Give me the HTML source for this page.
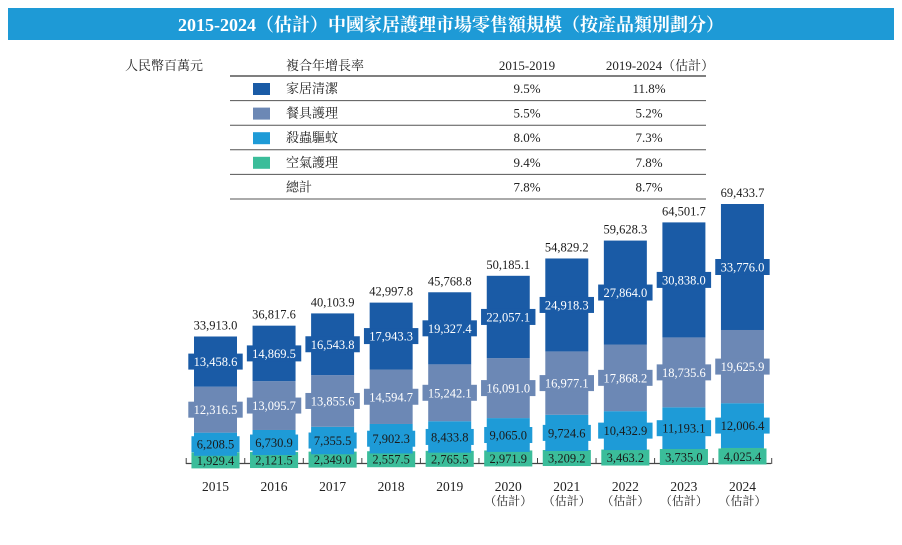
<!DOCTYPE html>
<html><head><meta charset="utf-8">
<style>
body{margin:0;background:#fff;width:902px;height:540px;overflow:hidden;font-family:"Liberation Serif","Noto Serif CJK SC",serif;}
</style></head>
<body>
<svg id="chart" width="902" height="540" xmlns="http://www.w3.org/2000/svg" font-family="Liberation Serif, Noto Serif CJK SC, serif">
<rect x="8" y="8" width="886" height="32" fill="#1E9AD6"/>
<text x="451" y="31" text-anchor="middle" fill="#fff" font-size="18" font-weight="bold">2015-2024（估計）中國家居護理市場零售額規模（按產品類別劃分）</text>
<text x="125" y="70" font-size="13" fill="#222">人民幣百萬元</text>
<g id="table"></g>
<g id="bars"></g>
</svg>
<script>
const years=["2015","2016","2017","2018","2019","2020","2021","2022","2023","2024"];
const estimated=[false,false,false,false,false,true,true,true,true,true];
const homeCleaning=[13458.6,14869.5,16543.8,17943.3,19327.4,22057.1,24918.3,27864.0,30838.0,33776.0];
const dishCare=[12316.5,13095.7,13855.6,14594.7,15242.1,16091.0,16977.1,17868.2,18735.6,19625.9];
const insecticide=[6208.5,6730.9,7355.5,7902.3,8433.8,9065.0,9724.6,10432.9,11193.1,12006.4];
const airCare=[1929.4,2121.5,2349.0,2557.5,2765.5,2971.9,3209.2,3463.2,3735.0,4025.4];
const totals=[33913.0,36817.6,40103.9,42997.8,45768.8,50185.1,54829.2,59628.3,64501.7,69433.7];
const seriesNames=["家居清潔","餐具護理","殺蟲驅蚊","空氣護理","總計"];
const cagr1519=["9.5%","5.5%","8.0%","9.4%","7.8%"];
const cagr1924=["11.8%","5.2%","7.3%","7.8%","8.7%"];
const colors=["#1A5BA6","#6C88B5","#1E9BD7","#3BBD9A"];
const NS="http://www.w3.org/2000/svg";
function mk(tag,attrs,parent,text){const e=document.createElementNS(NS,tag);for(const k in attrs)e.setAttribute(k,attrs[k]);if(text!==undefined)e.textContent=text;parent.appendChild(e);return e;}
const fmt=v=>v.toLocaleString("en-US",{minimumFractionDigits:1,maximumFractionDigits:1});
const tb=document.getElementById("table");
let h=mk("text",{x:325,y:70,"text-anchor":"middle","font-size":"13",fill:"#222"},tb,"複合年增長率");


h=mk("text",{x:527,y:70,"text-anchor":"middle","font-size":"13",fill:"#222"},tb,"2015-2019");


h=mk("text",{x:660,y:70,"text-anchor":"middle","font-size":"13",fill:"#222"},tb,"2019-2024（估計）");


for(let i=0;i<6;i++){const l=mk("line",{x1:230,x2:706,y1:76+i*24.6,y2:76+i*24.6,stroke:"#555","stroke-width":i==0?1.5:1},tb);

}
for(let i=0;i<5;i++){const y=93+i*24.6;
if(i<4){const s=mk("rect",{x:253,y:y-10,width:17,height:12,fill:colors[i]},tb);

}
const t=mk("text",{x:286,y:y,"font-size":"13",fill:"#222"},tb,seriesNames[i]);


const a=mk("text",{x:527,y:y,"text-anchor":"middle","font-size":"13",fill:"#222"},tb,cagr1519[i]);


const b=mk("text",{x:649,y:y,"text-anchor":"middle","font-size":"13",fill:"#222"},tb,cagr1924[i]);

}
const g=document.getElementById("bars");
const base=463,scale=259/69433.7,bw=43;
const xC=i=>215.5+i*58.55;
const yS=v=>v*scale;
const ax=mk("line",{x1:186,x2:771,y1:base+0.5,y2:base+0.5,stroke:"#444","stroke-width":1.2},g);


for(let i=0;i<=10;i++){const x=xC(i)-29.3;const t=mk("line",{x1:x,x2:x,y1:base-5,y2:base+1,stroke:"#444"},g);

}
const series=[airCare,insecticide,dishCare,homeCleaning];
const segColors=[colors[3],colors[2],colors[1],colors[0]];
const textCol=["#1a1a1a","#1a1a1a","#fff","#fff"];
const segNames=["air-care","insecticide","dish-care","home-cleaning"];
years.forEach((yr,i)=>{let y=base;const cx=xC(i);
series.forEach((s,k)=>{const hgt=yS(s[i]);y-=hgt;
const r=mk("rect",{x:cx-bw/2,y:y,width:bw,height:hgt,fill:segColors[k]},g);


const cy=k==0?y+hgt/2+1:y+hgt/2;
const lbl=fmt(s[i]);const w=lbl.length*6.3+4;
const bg=mk("rect",{x:cx-w/2,y:cy-8,width:w,height:16,fill:segColors[k]},g);


const t=mk("text",{x:cx,y:cy+4.5,"text-anchor":"middle","font-size":"12.5",fill:textCol[k]},g,lbl);

});
const tt=mk("text",{x:cx,y:base-yS(totals[i])-7,"text-anchor":"middle","font-size":"12.5",fill:"#1a1a1a"},g,fmt(totals[i]));


const yl=mk("text",{x:cx,y:491,"text-anchor":"middle","font-size":"13.5",fill:"#222"},g,yr);


if(estimated[i]){const e=mk("text",{x:cx,y:505,"text-anchor":"middle","font-size":"12",fill:"#222"},g,"（估計）");

}
});
</script>
</body></html>
